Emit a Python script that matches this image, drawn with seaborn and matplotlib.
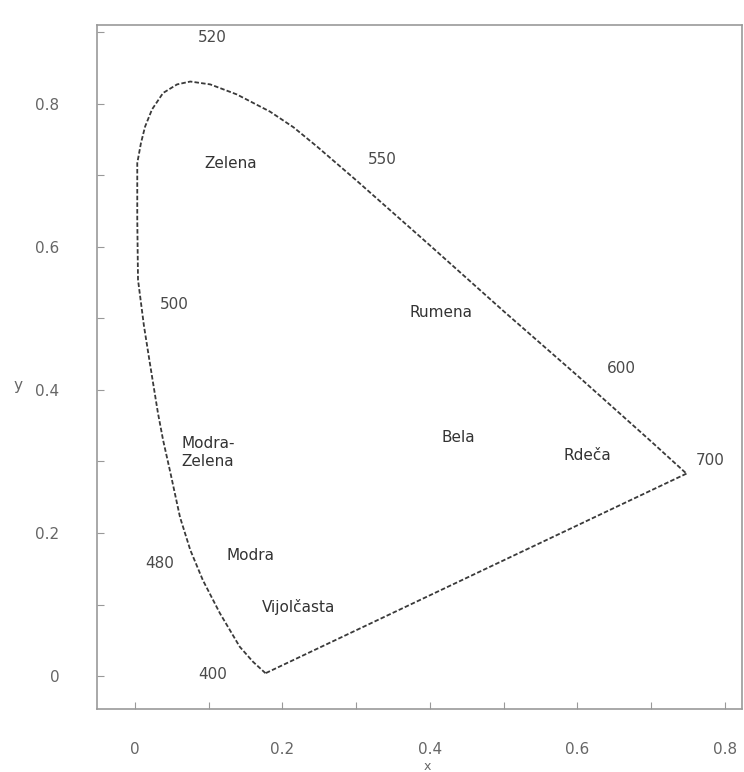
import matplotlib
matplotlib.use("Agg")
import matplotlib.pyplot as plt
import seaborn as sns
import pandas as pd
from matplotlib.ticker import MultipleLocator

# Spectral locus (400 nm -> 520 nm peak -> 700 nm)
locus_x = [0.177, 0.160, 0.142, 0.115, 0.092, 0.075, 0.061, 0.048, 0.038, 0.031, 0.020,
           0.012, 0.004, 0.003, 0.003, 0.008, 0.0136, 0.023, 0.038, 0.057, 0.075,
           0.102, 0.138, 0.183, 0.215, 0.247, 0.300, 0.400, 0.500, 0.600, 0.700, 0.748]
locus_y = [0.004, 0.020, 0.041, 0.088, 0.134, 0.176, 0.222, 0.284, 0.330, 0.368, 0.438,
           0.490, 0.554, 0.640, 0.717, 0.745, 0.768, 0.792, 0.815, 0.827, 0.831,
           0.827, 0.813, 0.789, 0.767, 0.740, 0.693, 0.602, 0.510, 0.420, 0.328, 0.283]

# Purple line (700 -> 400)
purple_x = [0.748, 0.177]
purple_y = [0.283, 0.004]

# Wavelength annotations
wl_labels = ["520", "550", "500", "600", "700", "480", "400"]
wl_x = [0.105, 0.336, 0.053, 0.660, 0.780, 0.034, 0.105]
wl_y = [0.893, 0.722, 0.520, 0.430, 0.302, 0.157, 0.002]

# Colour region names
region_labels = ["Zelena", "Rumena", "Modra-\nZelena", "Bela", "Rdeča", "Modra", "Vijolčasta"]
region_x = [0.130, 0.415, 0.108, 0.438, 0.613, 0.157, 0.222]
region_y = [0.717, 0.508, 0.312, 0.334, 0.309, 0.169, 0.097]

x_ticks = [0, 0.2, 0.4, 0.6, 0.8]
x_ticklabels = ["0", "0.2", "0.4", "0.6", "0.8"]
y_ticks = [0, 0.2, 0.4, 0.6, 0.8]
y_ticklabels = ["0", "0.2", "0.4", "0.6", "0.8"]

sns.set_style("ticks")
plt.rcParams['font.family'] = ['DejaVu Sans']

fig = plt.figure(figsize=(7.44, 7.72), dpi=100)
ax = fig.add_axes([0.130, 0.0816, 0.867, 0.886])

line_col = "#3a3a3a"
dash = (0, (2.5, 1.2))
locus_df = pd.DataFrame({"x": locus_x, "y": locus_y})
sns.lineplot(data=locus_df, x="x", y="y", sort=False, estimator=None, ax=ax,
             color=line_col, linewidth=1.3, linestyle=dash)
purple_df = pd.DataFrame({"x": purple_x, "y": purple_y})
sns.lineplot(data=purple_df, x="x", y="y", sort=False, estimator=None, ax=ax,
             color=line_col, linewidth=1.3, linestyle=dash)

txt_col = "#4a4a4a"
for lab, xx, yy in zip(wl_labels, wl_x, wl_y):
    ax.text(xx, yy, lab, ha="center", va="center", fontsize=11, color=txt_col)
for lab, xx, yy in zip(region_labels, region_x, region_y):
    ha = "left" if lab.startswith("Modra-") else "center"
    xx2 = 0.063 if ha == "left" else xx
    ax.text(xx2, yy, lab, ha=ha, va="center", fontsize=11, color="#333333",
            linespacing=1.25)

ax.set_xlim(-0.052, 0.823)
ax.set_ylim(-0.046, 0.91)
ax.set_xticks(x_ticks)
ax.set_xticklabels(x_ticklabels)
ax.set_yticks(y_ticks)
ax.set_yticklabels(y_ticklabels)
ax.xaxis.set_minor_locator(MultipleLocator(0.1))
ax.yaxis.set_minor_locator(MultipleLocator(0.1))
ax.tick_params(which="both", direction="in", length=5, width=0.8, color="#999999",
               labelcolor="#666666", labelsize=11)
ax.tick_params(axis="x", which="major", pad=24)
ax.tick_params(axis="y", which="major", pad=27)

for side in ["left", "right", "top", "bottom"]:
    ax.spines[side].set_visible(True)
    ax.spines[side].set_color("#9a9a9a")
    ax.spines[side].set_linewidth(1.2)

ax.set_xlabel("x", fontsize=9, color="#666666")
ax.set_ylabel("y", fontsize=11, color="#666666", rotation=0)
ax.xaxis.set_label_coords(0.513, -0.075)
ax.yaxis.set_label_coords(-0.122, 0.462)

fig.savefig("out.png", dpi=100, facecolor="white")
